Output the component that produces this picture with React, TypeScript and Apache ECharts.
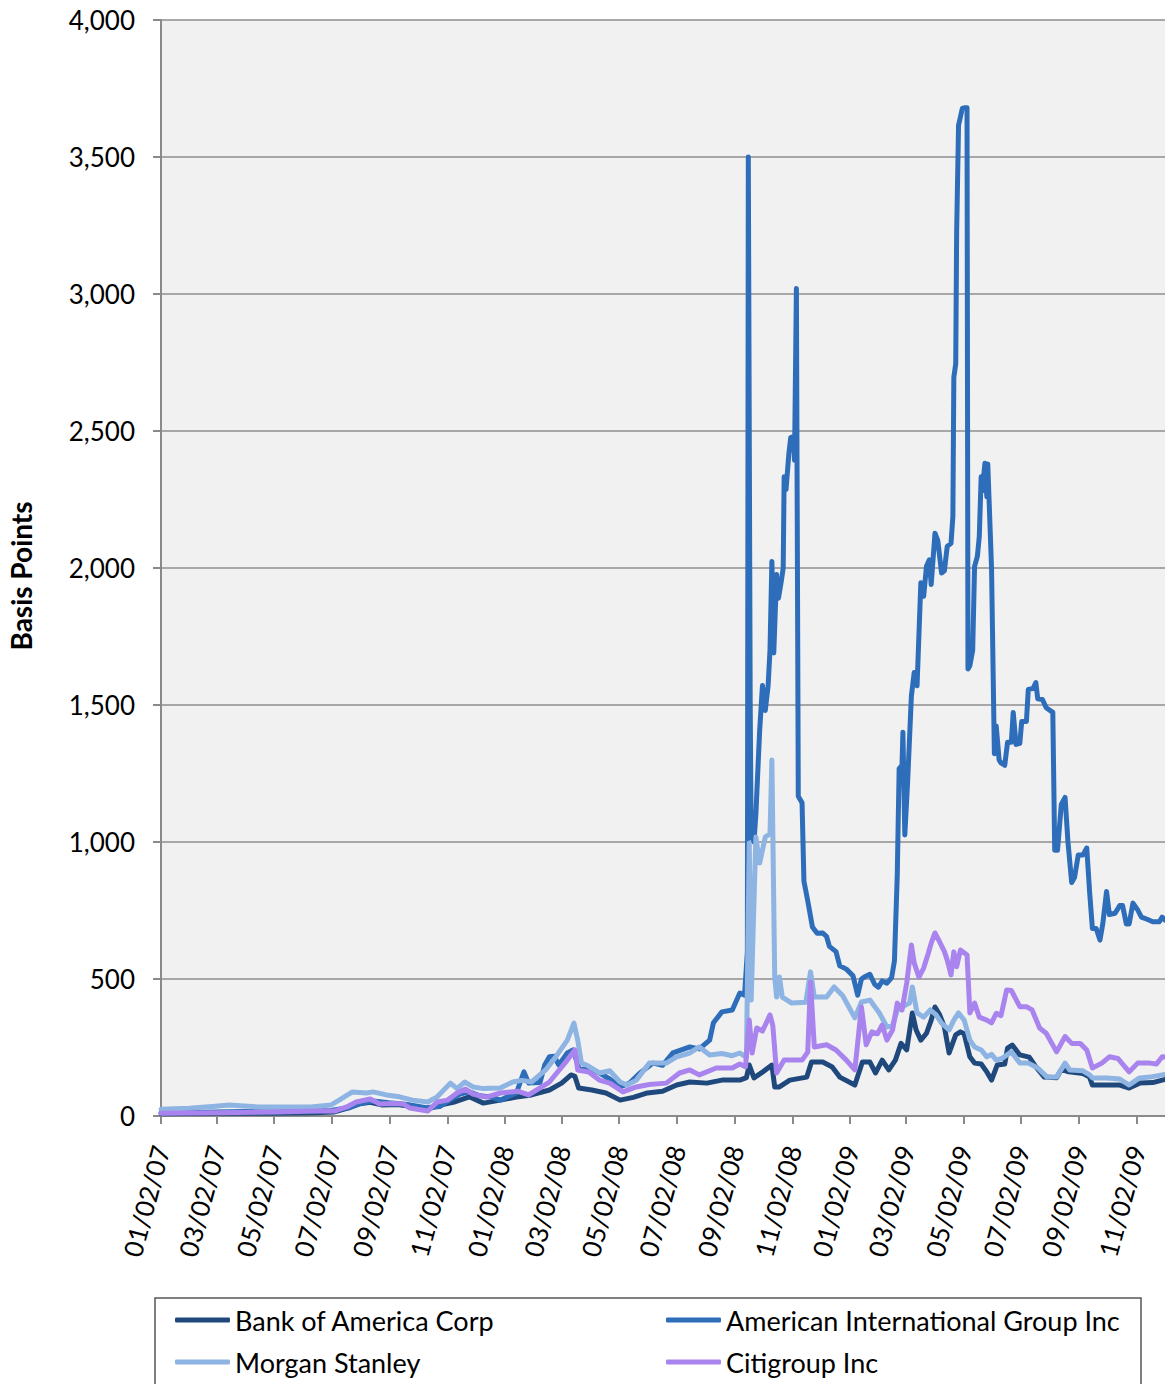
import React, { useEffect, useRef } from "react";
import * as echarts from "echarts";

const seriesNames = [
  "Bank of America Corp",
  "American International Group Inc",
  "Morgan Stanley",
  "Citigroup Inc",
];

const seriesColors = ["#1F497D", "#2E6DBA", "#8DB4E2", "#A984EE"];

const xTickDates = [
  "2007-01-02", "2007-03-02", "2007-05-02", "2007-07-02", "2007-09-02", "2007-11-02",
  "2008-01-02", "2008-03-02", "2008-05-02", "2008-07-02", "2008-09-02", "2008-11-02",
  "2009-01-02", "2009-03-02", "2009-05-02", "2009-07-02", "2009-09-02", "2009-11-02",
];

const yTicks = [0, 500, 1000, 1500, 2000, 2500, 3000, 3500, 4000];

const bankOfAmerica: [string, number][] = [
  ["2007-01-02", 8], ["2007-03-01", 10], ["2007-05-01", 10], ["2007-06-15", 12],
  ["2007-07-05", 15], ["2007-07-20", 30], ["2007-08-01", 45], ["2007-08-12", 50],
  ["2007-08-25", 40], ["2007-09-10", 42], ["2007-09-25", 35], ["2007-10-12", 25],
  ["2007-10-25", 40], ["2007-11-08", 50], ["2007-11-15", 58], ["2007-11-25", 70],
  ["2007-12-10", 47], ["2007-12-28", 58], ["2008-01-14", 69], ["2008-01-30", 77],
  ["2008-02-18", 95], ["2008-03-02", 120], ["2008-03-12", 150], ["2008-03-16", 145],
  ["2008-03-20", 102], ["2008-04-03", 95], ["2008-04-18", 84], ["2008-05-03", 58],
  ["2008-05-17", 68], ["2008-06-01", 84], ["2008-06-17", 90], ["2008-07-02", 113],
  ["2008-07-16", 124], ["2008-08-03", 120], ["2008-08-19", 131], ["2008-09-07", 131],
  ["2008-09-14", 140], ["2008-09-17", 186], ["2008-09-22", 139], ["2008-10-01", 160],
  ["2008-10-11", 186], ["2008-10-14", 106], ["2008-10-19", 106], ["2008-10-30", 131],
  ["2008-11-17", 142], ["2008-11-22", 197], ["2008-12-04", 197], ["2008-12-14", 179],
  ["2008-12-22", 142], ["2009-01-07", 113], ["2009-01-15", 197], ["2009-01-23", 197],
  ["2009-01-29", 157], ["2009-02-05", 204], ["2009-02-12", 168], ["2009-02-19", 204],
  ["2009-02-25", 265], ["2009-03-03", 241], ["2009-03-09", 376], ["2009-03-13", 314],
  ["2009-03-18", 277], ["2009-03-24", 302], ["2009-03-29", 350], ["2009-04-02", 398],
  ["2009-04-07", 369], ["2009-04-12", 325], ["2009-04-17", 230], ["2009-04-24", 296],
  ["2009-04-29", 307], ["2009-05-03", 300], ["2009-05-09", 216], ["2009-05-14", 193],
  ["2009-05-21", 190], ["2009-05-27", 161], ["2009-06-01", 131], ["2009-06-07", 186],
  ["2009-06-15", 190], ["2009-06-18", 248], ["2009-06-23", 259], ["2009-07-01", 223],
  ["2009-07-11", 215], ["2009-07-18", 179], ["2009-07-27", 142], ["2009-08-09", 140],
  ["2009-08-14", 170], ["2009-08-22", 161], ["2009-09-06", 155], ["2009-09-13", 142],
  ["2009-09-16", 113], ["2009-10-01", 113], ["2009-10-15", 113], ["2009-10-25", 102],
  ["2009-11-05", 120], ["2009-11-19", 122], ["2009-11-29", 131], ["2009-12-02", 133],
];

const aig: [string, number][] = [
  ["2007-01-02", 12], ["2007-02-01", 13], ["2007-03-01", 15], ["2007-04-01", 16],
  ["2007-05-01", 15], ["2007-06-01", 16], ["2007-07-01", 20], ["2007-07-20", 30],
  ["2007-08-01", 45], ["2007-08-15", 55], ["2007-09-01", 48], ["2007-09-20", 42],
  ["2007-10-10", 30], ["2007-10-25", 35], ["2007-11-05", 60], ["2007-11-15", 80],
  ["2007-11-25", 88], ["2007-12-05", 75], ["2007-12-20", 68], ["2007-12-28", 58],
  ["2008-01-14", 84], ["2008-01-22", 161], ["2008-01-27", 120], ["2008-02-08", 122],
  ["2008-02-13", 186], ["2008-02-18", 216], ["2008-02-23", 218], ["2008-02-28", 186],
  ["2008-03-08", 230], ["2008-03-14", 241], ["2008-03-21", 168], ["2008-03-31", 175],
  ["2008-04-11", 157], ["2008-04-22", 135], ["2008-05-03", 106], ["2008-05-13", 120],
  ["2008-05-24", 157], ["2008-06-07", 193], ["2008-06-17", 185], ["2008-06-28", 230],
  ["2008-07-16", 252], ["2008-07-26", 245], ["2008-08-06", 277], ["2008-08-10", 340],
  ["2008-08-19", 380], ["2008-08-30", 387], ["2008-09-07", 449], ["2008-09-12", 441],
  ["2008-09-15", 600], ["2008-09-16", 3500], ["2008-09-18", 1500], ["2008-09-19", 1024],
  ["2008-09-22", 1000], ["2008-09-24", 1100], ["2008-09-28", 1405], ["2008-10-01", 1571],
  ["2008-10-04", 1480], ["2008-10-07", 1571], ["2008-10-09", 1700], ["2008-10-11", 2024],
  ["2008-10-13", 1690], ["2008-10-16", 1976], ["2008-10-18", 1890], ["2008-10-21", 1952],
  ["2008-10-23", 2000], ["2008-10-24", 2333], ["2008-10-26", 2286], ["2008-10-29", 2417],
  ["2008-10-31", 2476], ["2008-11-03", 2480], ["2008-11-04", 2393], ["2008-11-06", 3020],
  ["2008-11-08", 1167], ["2008-11-12", 1143], ["2008-11-14", 857], ["2008-11-18", 786],
  ["2008-11-23", 690], ["2008-11-28", 667], ["2008-12-04", 668], ["2008-12-08", 655],
  ["2008-12-11", 619], ["2008-12-18", 600], ["2008-12-22", 548], ["2008-12-29", 536],
  ["2009-01-05", 512], ["2009-01-10", 441], ["2009-01-14", 500], ["2009-01-17", 507],
  ["2009-01-23", 517], ["2009-01-28", 481], ["2009-02-01", 470], ["2009-02-05", 493],
  ["2009-02-10", 485], ["2009-02-15", 505], ["2009-02-18", 566], ["2009-02-21", 880],
  ["2009-02-23", 1268], ["2009-02-26", 1280], ["2009-02-27", 1401], ["2009-03-01", 1026],
  ["2009-03-04", 1220], ["2009-03-08", 1534], ["2009-03-11", 1619], ["2009-03-14", 1570],
  ["2009-03-18", 1946], ["2009-03-21", 1897], ["2009-03-24", 2006], ["2009-03-27", 2030],
  ["2009-03-29", 1940], ["2009-04-02", 2127], ["2009-04-05", 2100], ["2009-04-09", 1982],
  ["2009-04-12", 1990], ["2009-04-15", 2079], ["2009-04-19", 2090], ["2009-04-21", 2188],
  ["2009-04-22", 2696], ["2009-04-24", 2745], ["2009-04-25", 3229], ["2009-04-27", 3616],
  ["2009-05-01", 3677], ["2009-05-04", 3680], ["2009-05-06", 3680], ["2009-05-07", 1631],
  ["2009-05-09", 1643], ["2009-05-12", 1700], ["2009-05-14", 2006], ["2009-05-17", 2043],
  ["2009-05-19", 2115], ["2009-05-21", 2333], ["2009-05-22", 2280], ["2009-05-25", 2382],
  ["2009-05-27", 2260], ["2009-05-28", 2380], ["2009-06-01", 2000], ["2009-06-04", 1322],
  ["2009-06-06", 1423], ["2009-06-09", 1300], ["2009-06-11", 1289], ["2009-06-15", 1280],
  ["2009-06-18", 1364], ["2009-06-22", 1364], ["2009-06-24", 1473], ["2009-06-27", 1356],
  ["2009-07-01", 1360], ["2009-07-03", 1440], ["2009-07-08", 1440], ["2009-07-10", 1557],
  ["2009-07-15", 1560], ["2009-07-18", 1582], ["2009-07-20", 1523], ["2009-07-25", 1520],
  ["2009-07-29", 1490], ["2009-08-05", 1473], ["2009-08-07", 970], ["2009-08-10", 970],
  ["2009-08-14", 1137], ["2009-08-18", 1163], ["2009-08-21", 1003], ["2009-08-25", 852],
  ["2009-08-28", 870], ["2009-09-01", 953], ["2009-09-06", 953], ["2009-09-10", 978],
  ["2009-09-13", 819], ["2009-09-16", 684], ["2009-09-20", 684], ["2009-09-24", 642],
  ["2009-09-27", 701], ["2009-10-01", 819], ["2009-10-04", 735], ["2009-10-10", 740],
  ["2009-10-15", 768], ["2009-10-18", 768], ["2009-10-22", 701], ["2009-10-25", 701],
  ["2009-10-29", 777], ["2009-11-03", 752], ["2009-11-07", 726], ["2009-11-13", 718],
  ["2009-11-19", 709], ["2009-11-26", 709], ["2009-11-29", 726], ["2009-12-02", 715],
];

const morganStanley: [string, number][] = [
  ["2007-01-02", 25], ["2007-02-01", 28], ["2007-03-01", 36], ["2007-03-15", 40],
  ["2007-04-15", 33], ["2007-05-15", 33], ["2007-06-10", 33], ["2007-07-01", 40],
  ["2007-07-10", 58], ["2007-07-24", 88], ["2007-08-08", 84], ["2007-08-15", 88],
  ["2007-08-29", 77], ["2007-09-12", 70], ["2007-09-26", 58], ["2007-10-12", 51],
  ["2007-10-22", 70], ["2007-11-05", 120], ["2007-11-12", 100], ["2007-11-20", 124],
  ["2007-11-29", 106], ["2007-12-10", 100], ["2007-12-28", 102], ["2008-01-10", 124],
  ["2008-01-20", 130], ["2008-01-30", 124], ["2008-02-14", 168], ["2008-02-24", 212],
  ["2008-03-08", 277], ["2008-03-15", 339], ["2008-03-19", 277], ["2008-03-23", 193],
  ["2008-03-29", 185], ["2008-04-11", 157], ["2008-04-22", 165], ["2008-05-03", 124],
  ["2008-05-10", 113], ["2008-05-20", 130], ["2008-06-03", 193], ["2008-06-21", 193],
  ["2008-07-02", 216], ["2008-07-16", 230], ["2008-07-26", 252], ["2008-08-06", 223],
  ["2008-08-19", 228], ["2008-08-30", 220], ["2008-09-07", 230], ["2008-09-14", 214],
  ["2008-09-17", 996], ["2008-09-19", 423], ["2008-09-24", 1018], ["2008-09-28", 923],
  ["2008-10-04", 1018], ["2008-10-09", 1030], ["2008-10-11", 1299], ["2008-10-14", 507],
  ["2008-10-16", 434], ["2008-10-19", 507], ["2008-10-22", 434], ["2008-11-01", 412],
  ["2008-11-16", 415], ["2008-11-21", 526], ["2008-11-25", 434], ["2008-12-08", 434],
  ["2008-12-16", 471], ["2008-12-25", 440], ["2009-01-07", 358], ["2009-01-14", 416],
  ["2009-01-23", 423], ["2009-02-02", 376], ["2009-02-10", 325], ["2009-02-16", 330],
  ["2009-02-21", 387], ["2009-02-27", 400], ["2009-03-06", 412], ["2009-03-09", 471],
  ["2009-03-14", 376], ["2009-03-21", 361], ["2009-03-28", 387], ["2009-04-03", 370],
  ["2009-04-09", 339], ["2009-04-17", 314], ["2009-04-22", 350], ["2009-04-27", 376],
  ["2009-05-03", 350], ["2009-05-09", 277], ["2009-05-14", 252], ["2009-05-21", 241],
  ["2009-05-27", 216], ["2009-06-01", 225], ["2009-06-06", 204], ["2009-06-12", 210],
  ["2009-06-22", 234], ["2009-07-01", 193], ["2009-07-10", 193], ["2009-07-20", 175],
  ["2009-07-30", 142], ["2009-08-09", 142], ["2009-08-18", 193], ["2009-08-23", 168],
  ["2009-09-06", 165], ["2009-09-13", 150], ["2009-09-16", 139], ["2009-10-01", 139],
  ["2009-10-15", 135], ["2009-10-25", 113], ["2009-11-05", 139], ["2009-11-16", 142],
  ["2009-11-29", 150], ["2009-12-02", 152],
];

const citigroup: [string, number][] = [
  ["2007-01-02", 10], ["2007-03-01", 12], ["2007-05-01", 15], ["2007-06-15", 18],
  ["2007-07-05", 18], ["2007-07-18", 33], ["2007-07-28", 51], ["2007-08-12", 62],
  ["2007-08-22", 44], ["2007-09-05", 46], ["2007-09-16", 44], ["2007-09-23", 29],
  ["2007-10-12", 18], ["2007-10-22", 51], ["2007-11-02", 58], ["2007-11-12", 84],
  ["2007-11-21", 98], ["2007-11-29", 80], ["2007-12-13", 69], ["2007-12-28", 84],
  ["2008-01-16", 90], ["2008-01-27", 77], ["2008-02-18", 124], ["2008-03-08", 204],
  ["2008-03-16", 241], ["2008-03-19", 168], ["2008-03-31", 160], ["2008-04-11", 131],
  ["2008-04-22", 120], ["2008-05-06", 88], ["2008-05-20", 106], ["2008-06-03", 115],
  ["2008-06-21", 120], ["2008-07-05", 157], ["2008-07-16", 168], ["2008-07-26", 150],
  ["2008-08-13", 175], ["2008-08-30", 175], ["2008-09-07", 190], ["2008-09-13", 180],
  ["2008-09-17", 350], ["2008-09-20", 230], ["2008-09-25", 321], ["2008-10-01", 310],
  ["2008-10-09", 369], ["2008-10-12", 330], ["2008-10-16", 157], ["2008-10-24", 204],
  ["2008-11-12", 204], ["2008-11-18", 233], ["2008-11-21", 489], ["2008-11-25", 252],
  ["2008-12-08", 260], ["2008-12-18", 241], ["2008-12-29", 204], ["2009-01-07", 168],
  ["2009-01-14", 398], ["2009-01-19", 260], ["2009-01-25", 307], ["2009-01-31", 300],
  ["2009-02-05", 332], ["2009-02-10", 277], ["2009-02-16", 314], ["2009-02-21", 412],
  ["2009-02-26", 387], ["2009-03-03", 485], ["2009-03-08", 624], ["2009-03-11", 558],
  ["2009-03-16", 507], ["2009-03-21", 540], ["2009-03-26", 595], ["2009-03-29", 631],
  ["2009-04-02", 668], ["2009-04-06", 642], ["2009-04-12", 600], ["2009-04-15", 569],
  ["2009-04-19", 515], ["2009-04-22", 599], ["2009-04-25", 545], ["2009-04-29", 606],
  ["2009-05-06", 588], ["2009-05-09", 376], ["2009-05-14", 412], ["2009-05-19", 361],
  ["2009-05-27", 350], ["2009-06-01", 340], ["2009-06-06", 375], ["2009-06-11", 366],
  ["2009-06-17", 460], ["2009-06-22", 458], ["2009-07-01", 399], ["2009-07-08", 399],
  ["2009-07-14", 387], ["2009-07-22", 321], ["2009-07-29", 302], ["2009-08-09", 234],
  ["2009-08-18", 290], ["2009-08-25", 265], ["2009-09-03", 265], ["2009-09-10", 241],
  ["2009-09-16", 175], ["2009-09-26", 193], ["2009-10-04", 216], ["2009-10-13", 210],
  ["2009-10-25", 161], ["2009-11-03", 193], ["2009-11-16", 193], ["2009-11-23", 190],
  ["2009-11-29", 216], ["2009-12-02", 215],
];

const xMinDate = "2007-01-02";
const xMaxDate = "2009-12-02";

const toTime = (s: string) => {
  const [y, m, d] = s.split("-").map(Number);
  return Date.UTC(y, m - 1, d);
};
const pad = (n: number) => (n < 10 ? "0" + n : "" + n);
const fmtDate = (t: number) => {
  const d = new Date(t);
  return pad(d.getUTCMonth() + 1) + "/" + pad(d.getUTCDate()) + "/" + pad(d.getUTCFullYear() % 100);
};

const FONT = "Lato, 'Open Sans', sans-serif";

export default function App() {
  const ref = useRef<HTMLDivElement>(null);
  useEffect(() => {
    if (!ref.current) return;
    document.body.style.margin = "0";
    const chart = echarts.init(ref.current, null, { renderer: "svg" });
    const allData = [bankOfAmerica, aig, morganStanley, citigroup];
    const tickVals = xTickDates.map(toTime);
    const legendText = { color: "#000", fontSize: 27, fontFamily: FONT, lineHeight: 30 };
    const legendBase = {
      orient: "vertical",
      top: 1305,
      height: 200,
      padding: 0,
      icon: "roundRect",
      itemWidth: 55,
      itemHeight: 5,
      itemGap: 12,
      textStyle: legendText,
    };
    chart.setOption({
      animation: false,
      backgroundColor: "#FFFFFF",
      grid: {
        left: 161,
        top: 20,
        right: 0,
        bottom: 268,
        show: true,
        backgroundColor: "#F1F1F1",
        borderWidth: 0,
      },
      xAxis: {
        type: "value",
        min: toTime(xMinDate),
        max: toTime(xMaxDate),
        splitLine: { show: false },
        axisLine: { show: true, lineStyle: { color: "#8A8A8A", width: 2 } },
        axisTick: {
          show: true,
          customValues: tickVals,
          length: 8,
          lineStyle: { color: "#8A8A8A", width: 2 },
        },
        axisLabel: {
          customValues: tickVals,
          formatter: (v: number) => fmtDate(v),
          rotate: 75,
          margin: 30,
          color: "#000",
          fontSize: 26,
          fontFamily: FONT,
          hideOverlap: false,
          showMinLabel: true,
          showMaxLabel: true,
        },
      },
      yAxis: {
        type: "value",
        min: 0,
        max: 4000,
        interval: 500,
        axisLine: { show: true, lineStyle: { color: "#8A8A8A", width: 2 } },
        axisTick: { show: true, length: 8, lineStyle: { color: "#8A8A8A", width: 2 } },
        splitLine: { show: true, lineStyle: { color: "#8E8E8E", width: 1.5 } },
        axisLabel: {
          margin: 26,
          color: "#000",
          fontSize: 26,
          fontFamily: FONT,
          formatter: (v: number) =>
            yTicks.includes(v) ? v.toLocaleString("en-US") : "",
        },
      },
      legend: [
        { ...legendBase, data: [seriesNames[0], seriesNames[2]], left: 175 },
        { ...legendBase, data: [seriesNames[1], seriesNames[3]], left: 666 },
      ],
      graphic: [
        {
          type: "rect",
          shape: { x: 155, y: 1298, width: 986, height: 120 },
          style: { fill: "none", stroke: "#555555", lineWidth: 1.5 },
          silent: true,
        },
        {
          type: "text",
          x: 21,
          y: 576,
          rotation: Math.PI / 2,
          style: {
            text: "Basis Points",
            fontSize: 28,
            fontWeight: "bold",
            fontFamily: FONT,
            fill: "#000",
            align: "center",
            verticalAlign: "middle",
          },
        },
      ],
      series: seriesNames.map((name, i) => ({
        name,
        type: "line",
        showSymbol: false,
        symbol: "none",
        color: seriesColors[i],
        lineStyle: { width: 5, color: seriesColors[i], cap: "round", join: "round" },
        data: allData[i].map(([d, v]) => [toTime(d), v]),
        z: 2 + i,
      })),
    });
    return () => chart.dispose();
  }, []);
  return (
    <div
      ref={ref}
      style={{ width: 1165, height: 1384, position: "absolute", left: 0, top: 0 }}
    />
  );
}
